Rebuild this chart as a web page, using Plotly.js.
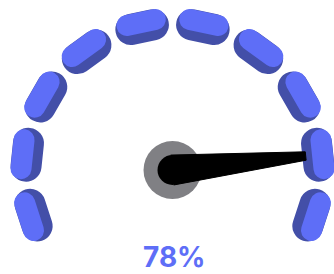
<!DOCTYPE html>
<html><head><meta charset="utf-8">
<script src="https://cdn.plot.ly/plotly-3.0.1.min.js"></script>
<style>
html,body{margin:0;padding:0;background:#fff;}
#chart{width:334px;height:274px;}
svg path.js-line{stroke-linecap:round !important; stroke-linejoin:round !important;}
.polarlayer, .polarlayer *{clip-path:none !important;}
</style></head><body><div id="chart"></div>
<script>
// Gauge data (percent scale 0-100, 10 segments)
const segmentMidPct = [5, 15, 25, 35, 45, 55, 65, 75, 85, 95];
const labelPct = 78;
const needlePct = 85;   // needle position

const LIGHT = '#5e6ef7';
const DARK = '#434fa8';
const degPerPct = 2.4;  // 240-degree gauge
const toTheta = p => p * degPerPct;

function segLine(halfDeg, radius) {
  const th = [], r = [];
  segmentMidPct.forEach(p => {
    const c = toTheta(p);
    th.push(c - halfDeg, c + halfDeg, null);
    r.push(radius, radius, null);
  });
  return {theta: th, r: r};
}
const darkSeg = segLine(4.5, 146.5);
const lightSeg = segLine(5.5, 151.5);
const a = toTheta(needlePct);

const base = {type:'scatterpolar', cliponaxis:false, hoverinfo:'skip'};
const traces = [
  Object.assign({}, base, darkSeg, {mode:'lines', connectgaps:false, line:{color:DARK, width:31}}),
  Object.assign({}, base, lightSeg, {mode:'lines', connectgaps:false, line:{color:LIGHT, width:21}}),
  Object.assign({}, base, {r:[0], theta:[0], mode:'markers', marker:{size:58, color:'#808084'}}),
  Object.assign({}, base, {r:[15, 134, 134, 15], theta:[a+90, a+1.8, a-1.8, a-90],
   mode:'lines', fill:'toself', fillcolor:'#000', line:{color:'#000', width:1}}),
  Object.assign({}, base, {r:[0], theta:[0], mode:'markers', marker:{size:30, color:'#000'}})
];

const layout = {
  width:334, height:274,
  margin:{l:0, r:0, t:0, b:0},
  paper_bgcolor:'#fff',
  showlegend:false,
  polar:{
    domain:{x:[17.5/334, 327.5/334], y:[1-247.5/274, 1-15/274]},
    sector:[-30, 210],
    bgcolor:'rgba(0,0,0,0)',
    radialaxis:{visible:false, range:[0,155], showgrid:false},
    angularaxis:{visible:false, rotation:210, direction:'clockwise', showgrid:false}
  },
  annotations:[{
    text:'<b>' + labelPct + '%</b>', x:174/334, y:1-257/274,
    xref:'paper', yref:'paper', xanchor:'center', yanchor:'middle', showarrow:false,
    height:26, valign:'middle',
    font:{family:'Inter', size:28, color:LIGHT}
  }]
};

Plotly.newPlot('chart', traces, layout, {displayModeBar:false, staticPlot:true});
</script></body></html>
